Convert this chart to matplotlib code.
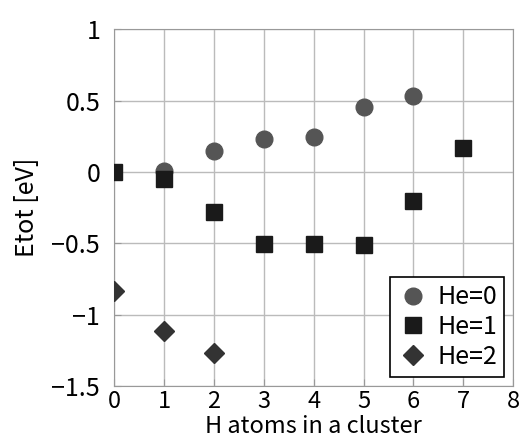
import numpy as np
import matplotlib
matplotlib.use('Agg')
import matplotlib.pyplot as plt

plt.rcParams['font.family'] = ['Noto Sans CJK JP', 'DejaVu Sans']

# Total energy per cluster
h_he0 = [1, 2, 3, 4, 5, 6]
e_he0 = [0.01, 0.15, 0.23, 0.245, 0.455, 0.53]

h_he1 = [0, 1, 2, 3, 4, 5, 6, 7]
e_he1 = [0.0, -0.05, -0.28, -0.505, -0.505, -0.515, -0.205, 0.17]

h_he2 = [0, 1, 2]
e_he2 = [-0.836, -1.115, -1.27]

fig = plt.figure(figsize=(5.28, 4.48), dpi=100)
ax = fig.add_axes([0.216, 0.138, 0.756, 0.797])

ax.plot(h_he0, e_he0, 'o', color='#555555', markersize=12, label='He=0', zorder=3)
ax.plot(h_he1, e_he1, 's', color='#1a1a1a', markersize=11, label='He=1', zorder=3)
ax.plot(h_he2, e_he2, 'D', color='#333333', markersize=10, label='He=2', zorder=3)

ax.set_xlim(0, 8)
ax.set_ylim(-1.5, 1)
ax.set_xticks(np.arange(0, 9, 1))
ax.set_yticks([-1.5, -1, -0.5, 0, 0.5, 1])
ax.set_yticklabels(['\u22121.5', '\u22121', '\u22120.5', '0', '0.5', '1'])
ax.grid(True, color='#bbbbbb', linewidth=1)
ax.set_axisbelow(True)
ax.tick_params(direction='in', labelsize=18, length=5, color='#999999')
ax.tick_params(axis='x', pad=3, labelsize=17)
ax.tick_params(axis='y', pad=10)
for s in ax.spines.values():
    s.set_color('#999999')

ax.set_xlabel('H atoms in a cluster', fontsize=17, labelpad=1)
ax.set_ylabel('Etot [eV]', fontsize=18, labelpad=8)

leg = ax.legend(loc='lower right', fontsize=18, fancybox=False, edgecolor='black',
                framealpha=1, handletextpad=0.3, borderpad=0.3, labelspacing=0.15,
                handlelength=1.3, borderaxespad=0.35)
leg.get_frame().set_linewidth(1.2)

fig.savefig('out.png', dpi=100)
